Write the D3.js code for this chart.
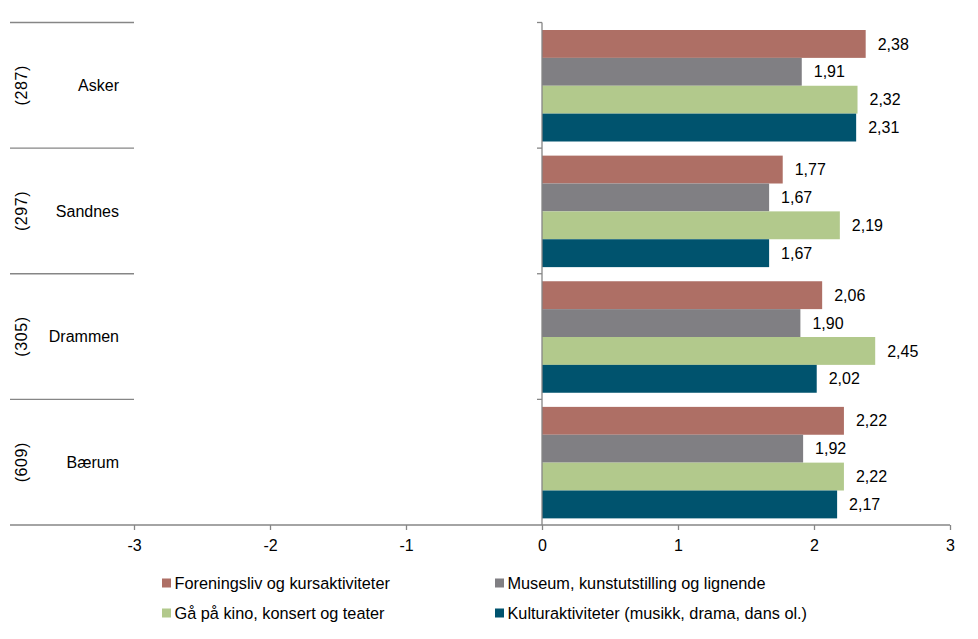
<!DOCTYPE html>
<html><head><meta charset="utf-8">
<script src="https://cdn.jsdelivr.net/npm/d3@7"></script>
<style>body{margin:0;background:#fff;} text{font-family:"Liberation Sans",Arial,sans-serif;}</style>
</head><body>
<svg id="c" width="978" height="639"></svg>
<script>
const categories = ["Asker", "Sandnes", "Drammen", "Bærum"];
const counts = ["(287)", "(297)", "(305)", "(609)"];
const seriesNames = ["Foreningsliv og kursaktiviteter", "Museum, kunstutstilling og lignende", "Gå på kino, konsert og teater", "Kulturaktiviteter (musikk, drama, dans ol.)"];
const colors = ["#AE6F65", "#807F83", "#B2C98C", "#00536E"];
const foreningsliv = [2.38, 1.77, 2.06, 2.22];
const museum = [1.91, 1.67, 1.90, 1.92];
const kino = [2.32, 2.19, 2.45, 2.22];
const kultur = [2.31, 1.67, 2.02, 2.17];
const xTicks = [-3, -2, -1, 0, 1, 2, 3];

(function () {
const series = [foreningsliv, museum, kino, kultur];
const svg = d3.select("#c");
const axisColor = "#868686";
const plotTop = 22.5, plotBottom = 525;
const x = d3.scaleLinear().domain([-3, 3]).range([134, 950]);
const y = d3.scaleBand().domain(categories).range([plotTop, plotBottom]);
const inner = d3.scaleBand().domain(d3.range(4)).range([7.5, 7.5 + 111.5]);
const fmt = v => d3.format(".2f")(v).replace(".", ",");

categories.forEach((c, ci) => {
  const g = svg.append("g").attr("transform", `translate(0,${y(c)})`);
  series.forEach((s, si) => {
    const v = s[ci];
    g.append("rect").attr("x", x(0)).attr("y", inner(si))
      .attr("width", x(v) - x(0)).attr("height", inner.bandwidth())
      .attr("fill", colors[si]);
    g.append("text").attr("x", x(v) + 12).attr("y", inner(si) + inner.bandwidth() / 2)
      .attr("dy", "0.35em").attr("font-size", 16).attr("fill", "#000").text(fmt(v));
  });
});

svg.append("line").attr("x1", x(0)).attr("x2", x(0)).attr("y1", plotTop).attr("y2", plotBottom)
  .attr("stroke", axisColor).attr("stroke-width", 1.3);
categories.forEach((c, ci) => {
  svg.append("line").attr("x1", x(0) - 5).attr("x2", x(0)).attr("y1", y(c)).attr("y2", y(c))
    .attr("stroke", axisColor).attr("stroke-width", 1.3);
  svg.append("line").attr("x1", 10).attr("x2", 134).attr("y1", y(c)).attr("y2", y(c))
    .attr("stroke", axisColor).attr("stroke-width", 1.3);
  const cy = y(c) + y.bandwidth() / 2;
  svg.append("text").attr("x", 119).attr("y", cy).attr("dy", "0.35em")
    .attr("text-anchor", "end").attr("font-size", 16).text(c);
  svg.append("text").attr("transform", `translate(21.5,${cy}) rotate(-90)`)
    .attr("dy", "0.35em").attr("text-anchor", "middle").attr("font-size", 16)
    .attr("letter-spacing", 0.6).text(counts[ci]);
});

const xAxis = d3.axisBottom(x).tickValues(xTicks).tickSize(5).tickSizeOuter(0)
  .tickFormat(d => d3.format("d")(d).replace("−", "-"));
const ax = svg.append("g").attr("transform", `translate(0,${plotBottom})`).call(xAxis);
ax.select(".domain").remove();
ax.selectAll(".tick line").attr("stroke", axisColor).attr("stroke-width", 1.3);
ax.selectAll(".tick text").attr("font-size", 16).attr("fill", "#000").attr("y", 15)
  .attr("font-family", "Liberation Sans, Arial, sans-serif");
svg.append("line").attr("x1", 10).attr("x2", 950).attr("y1", plotBottom).attr("y2", plotBottom)
  .attr("stroke", axisColor).attr("stroke-width", 1.3);

const legX = [162, 495], legY = [583, 613];
seriesNames.forEach((n, i) => {
  const lx = legX[i % 2], ly = legY[Math.floor(i / 2)];
  svg.append("rect").attr("x", lx).attr("y", ly - 4.5).attr("width", 9).attr("height", 9).attr("fill", colors[i]);
  svg.append("text").attr("x", lx + 12.5).attr("y", ly).attr("dy", "0.35em").attr("font-size", 16.3).text(n);
});
})();
</script>
</body></html>
